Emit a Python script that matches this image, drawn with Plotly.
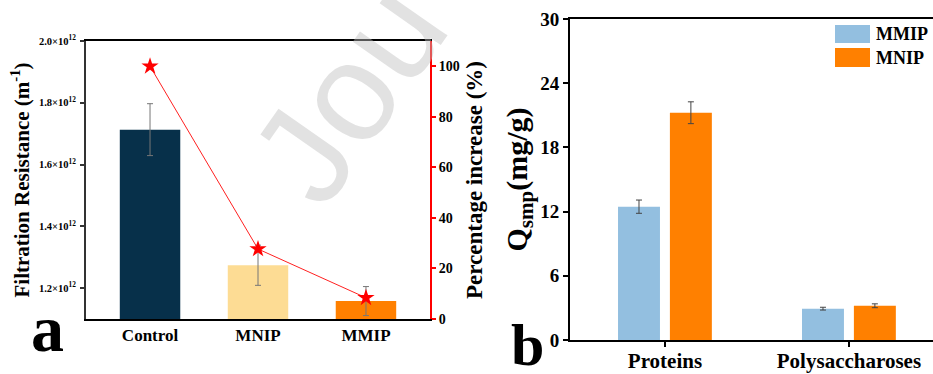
import plotly.graph_objects as go

# Panel a: filtration resistance and its percentage increase
groups_a = ["Control", "MNIP", "MMIP"]
resistance = [1.713e12, 1.274e12, 1.158e12]
resistance_err = [0.084e12, 0.065e12, 0.047e12]
pct_increase = [100, 27.7, 8.4]
colors_a = ["#07304A", "#FDDC94", "#FF8000"]
res_ticks = [1.2e12, 1.4e12, 1.6e12, 1.8e12, 2.0e12]
res_ticktext = ["1.2×10<sup>12</sup>", "1.4×10<sup>12</sup>", "1.6×10<sup>12</sup>",
                "1.8×10<sup>12</sup>", "2.0×10<sup>12</sup>"]

# Panel b: adsorbed soluble microbial products
groups_b = ["Proteins", "Polysaccharoses"]
mmip_q = [12.46, 2.93]
mmip_err = [0.62, 0.13]
mnip_q = [21.24, 3.20]
mnip_err = [1.02, 0.18]

SERIF = "Liberation Serif"
W, H = 933, 374


def px(x):
    return x / W


def py(y):
    return 1 - y / H


fig = go.Figure()

fig.add_trace(go.Bar(
    x=groups_a, y=resistance, marker=dict(color=colors_a, line=dict(width=0)),
    width=0.56,
    error_y=dict(type="data", array=resistance_err, color="#777", thickness=1, width=3),
    xaxis="x", yaxis="y", showlegend=False,
))
fig.add_trace(go.Scatter(
    x=groups_a, y=pct_increase, mode="lines+markers",
    line=dict(color="#FF2020", width=1),
    marker=dict(symbol="star", size=13, color="#FF0000", line=dict(width=0)),
    xaxis="x", yaxis="y2", showlegend=False,
))

fig.add_trace(go.Bar(
    x=groups_b, y=mmip_q, name="MMIP", marker=dict(color="#93BFE0", line=dict(width=0)),
    width=0.228, offset=-0.255,
    error_y=dict(type="data", array=mmip_err, color="#444", thickness=1, width=3),
    xaxis="x3", yaxis="y3", showlegend=False,
))
fig.add_trace(go.Bar(
    x=groups_b, y=mnip_q, name="MNIP", marker=dict(color="#FF8000", line=dict(width=0)),
    width=0.228, offset=0.027,
    error_y=dict(type="data", array=mnip_err, color="#444", thickness=1, width=3),
    xaxis="x3", yaxis="y3", showlegend=False,
))

bold = lambda s, c="black": dict(family=SERIF, size=s, color=c, weight="bold")

fig.update_layout(
    width=W, height=H, margin=dict(l=0, r=0, t=0, b=0, pad=0),
    paper_bgcolor="white", plot_bgcolor="white", barmode="overlay",
    xaxis=dict(domain=[px(86), px(430)], anchor="y", type="category", automargin=False,
               range=[-0.593, 2.593], showline=True, linecolor="black", linewidth=2,
               mirror=True, ticks="", tickfont=bold(17), showgrid=False),
    yaxis=dict(anchor="x", domain=[py(319), py(41)], range=[1.1e12, 2.0e12],
               automargin=False,
               tickvals=res_ticks, ticktext=res_ticktext, tickfont=bold(10.5),
               ticks="outside", ticklen=4, tickcolor="#333", tickwidth=1.5,
               ticklabelstandoff=2,
               showline=True, linecolor="#333", linewidth=2, showgrid=False,
               zeroline=False,
               title=dict(text="Filtration Resistance (m<sup>-1</sup>)",
                          font=bold(21), standoff=4)),
    yaxis2=dict(anchor="x", overlaying="y", side="right", range=[0, 110],
                automargin=False,
                tickvals=[0, 20, 40, 60, 80, 100], tickfont=bold(14),
                ticks="outside", ticklen=4, tickcolor="#FF0000", tickwidth=2,
                showline=True, linecolor="#FF0000", linewidth=2, showgrid=False,
                zeroline=False,
                title=dict(text="Percentage increase (%)", font=bold(23), standoff=7)),
    xaxis3=dict(domain=[px(570), 1.0], anchor="y3", type="category", automargin=False,
                range=[-0.516, 1.457], showline=True, linecolor="black", linewidth=2,
                mirror=True, ticks="outside", ticklen=5, tickwidth=2, tickcolor="black",
                ticklabelstandoff=-4,
                tickfont=bold(21), showgrid=False),
    yaxis3=dict(anchor="x3", domain=[py(340), py(19)], range=[0, 30], automargin=False,
                tickvals=[0, 6, 12, 18, 24, 30], tickfont=bold(19),
                ticks="outside", ticklen=5, tickwidth=2, tickcolor="black",
                showline=True, linecolor="black", linewidth=2, showgrid=False,
                zeroline=False,
                title=dict(text="Q<sub>smp</sub>(mg/g)", font=bold(30), standoff=4)),
)

# Legend for panel b
legend_rows = [("MMIP", "#93BFE0", 25, 43), ("MNIP", "#FF8000", 48, 67)]
for label, color, y0, y1 in legend_rows:
    fig.add_shape(type="rect", xref="paper", yref="paper",
                  x0=px(835), x1=px(870), y0=py(y1), y1=py(y0),
                  fillcolor=color, line=dict(width=0))
    fig.add_annotation(xref="paper", yref="paper", x=px(874), y=py((y0 + y1) / 2),
                       text=label, showarrow=False, xanchor="left", yanchor="middle",
                       font=bold(18))

# Panel letters
fig.add_annotation(xref="paper", yref="paper", x=px(47), y=py(328), text="a",
                   showarrow=False, xanchor="center", yanchor="middle", font=bold(66))
fig.add_annotation(xref="paper", yref="paper", x=px(527), y=py(345), text="b",
                   showarrow=False, xanchor="center", yanchor="middle", font=bold(60))

# Faint watermark
fig.add_annotation(xref="paper", yref="paper", x=px(348), y=py(92), text="Jou",
                   showarrow=False, textangle=-55, xanchor="center", yanchor="middle",
                   font=dict(family="Liberation Sans", size=140,
                             color="rgba(190,190,190,0.45)"))

fig.write_html("out.html")
